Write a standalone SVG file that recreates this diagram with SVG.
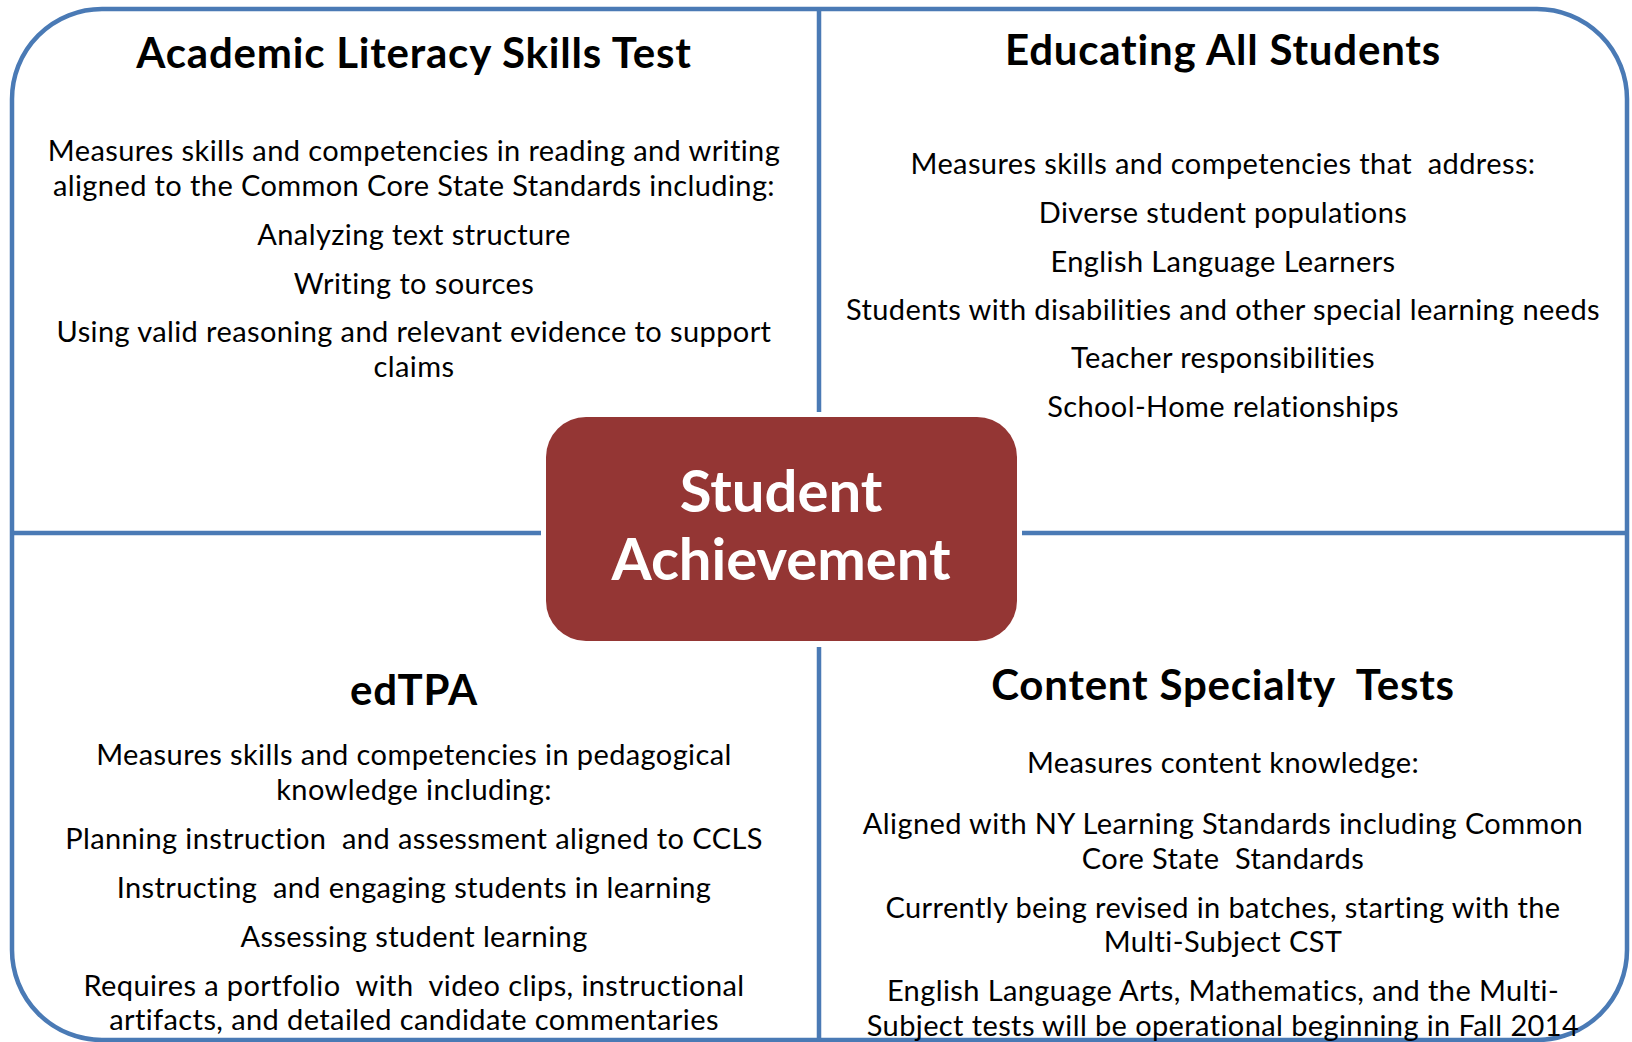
<svg xmlns="http://www.w3.org/2000/svg" width="1632" height="1042" viewBox="0 0 1632 1042">
<style>
text{white-space:pre}
.frame{fill:none;stroke:#4A7AB5;stroke-width:4.5}
.div{stroke:#4A7AB5;stroke-width:4.5;fill:none}
.title{font-family:"Lato","Liberation Sans",sans-serif;font-weight:bold;font-size:42px;letter-spacing:0.8px;fill:#000;text-anchor:middle}
.body{font-family:"Lato","Liberation Sans",sans-serif;font-size:29px;letter-spacing:0.4px;fill:#000;text-anchor:middle}
.center{font-family:"Lato","Liberation Sans",sans-serif;font-weight:bold;font-size:58px;fill:#fff;text-anchor:middle}
</style>
<rect width="1632" height="1042" fill="#fff"/>
<rect class="frame" x="12" y="9" width="1615" height="1031" rx="90" ry="90"/>
<g id="connectors">
<line class="div" x1="819" y1="9" x2="819" y2="412"/>
<line class="div" x1="819" y1="647" x2="819" y2="1040"/>
<line class="div" x1="12" y1="533" x2="541" y2="533"/>
<line class="div" x1="1022" y1="533" x2="1627" y2="533"/>
</g>
<g id="academic-literacy">
<text class="title" x="414" y="68">Academic Literacy Skills Test</text>
<text class="body" x="414" y="161">Measures skills and competencies in reading and writing</text>
<text class="body" x="414" y="196">aligned to the Common Core State Standards including:</text>
<text class="body" x="414" y="245">Analyzing text structure</text>
<text class="body" x="414" y="294">Writing to sources</text>
<text class="body" x="414" y="342">Using valid reasoning and relevant evidence to support</text>
<text class="body" x="414" y="377">claims</text>
</g>
<g id="educating-all">
<text class="title" x="1223" y="65">Educating All Students</text>
<text class="body" x="1223" y="174">Measures skills and competencies that  address:</text>
<text class="body" x="1223" y="223">Diverse student populations</text>
<text class="body" x="1223" y="272">English Language Learners</text>
<text class="body" x="1223" y="320">Students with disabilities and other special learning needs</text>
<text class="body" x="1223" y="368">Teacher responsibilities</text>
<text class="body" x="1223" y="417">School-Home relationships</text>
</g>
<g id="edtpa">
<text class="title" x="414" y="705">edTPA</text>
<text class="body" x="414" y="765">Measures skills and competencies in pedagogical</text>
<text class="body" x="414" y="800">knowledge including:</text>
<text class="body" x="414" y="849">Planning instruction  and assessment aligned to CCLS</text>
<text class="body" x="414" y="898">Instructing  and engaging students in learning</text>
<text class="body" x="414" y="947">Assessing student learning</text>
<text class="body" x="414" y="996">Requires a portfolio  with  video clips, instructional</text>
<text class="body" x="414" y="1030">artifacts, and detailed candidate commentaries</text>
</g>
<g id="content-specialty">
<text class="title" x="1223" y="700">Content Specialty  Tests</text>
<text class="body" x="1223" y="773">Measures content knowledge:</text>
<text class="body" x="1223" y="834">Aligned with NY Learning Standards including Common</text>
<text class="body" x="1223" y="869">Core State  Standards</text>
<text class="body" x="1223" y="918">Currently being revised in batches, starting with the</text>
<text class="body" x="1223" y="952">Multi-Subject CST</text>
<text class="body" x="1223" y="1001">English Language Arts, Mathematics, and the Multi-</text>
<text class="body" x="1223" y="1036">Subject tests will be operational beginning in Fall 2014</text>
</g>
<g id="student-achievement">
<rect x="546" y="417" width="471" height="224" rx="40" ry="40" fill="#943634"/>
<text class="center" x="781" y="512">Student</text>
<text class="center" x="781" y="580">Achievement</text>
</g>
</svg>
